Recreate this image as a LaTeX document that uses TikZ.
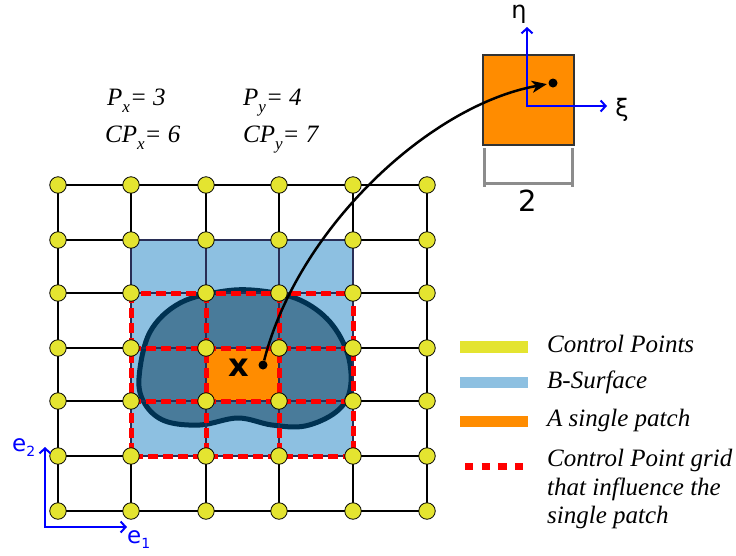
\documentclass[tikz,border=0pt]{standalone}
\usepackage{fontspec}
\setmainfont{Liberation Serif}
\newfontfamily\dvs{DejaVu Sans}
\usetikzlibrary{arrows.meta}
\definecolor{cpyellow}{RGB}{228,228,48}
\definecolor{surfblue}{RGB}{141,192,225}
\definecolor{blobfill}{RGB}{73,123,154}
\definecolor{blobline}{RGB}{0,50,82}
\definecolor{patchorange}{RGB}{255,140,0}
\definecolor{gridred}{RGB}{255,0,0}
\definecolor{bracketgray}{RGB}{140,140,140}
\definecolor{axisblue}{RGB}{0,0,255}
\definecolor{innerline}{RGB}{40,45,85}
\newcommand\mysub[1]{\raisebox{-0.3em}{\fontsize{17}{17}\selectfont #1}}
\tikzset{
  gridline/.style={line width=2pt, black},
  innergrid/.style={line width=1.2pt, innerline},
  reddash/.style={gridred, line width=5pt, dash pattern=on 10pt off 5pt},
  ctrlpt/.style={circle, draw=black, line width=0.8pt, fill=cpyellow, minimum size=16.5pt, inner sep=0pt},
  dotnode/.style={circle, fill=black, minimum size=9pt, inner sep=0pt},
  axisline/.style={axisblue, line width=2pt},
  bracketline/.style={bracketgray, line width=3pt},
  labeltext/.style={font=\fontsize{25}{25}\selectfont\itshape, anchor=base west, inner sep=0pt},
  legendtext/.style={font=\fontsize{25}{29}\selectfont\itshape, anchor=base west, inner sep=0pt},
}
\begin{document}
\begin{tikzpicture}[x=1pt,y=-1pt]
\useasboundingbox (0,0) rectangle (736,555);
% grid coordinates
\foreach \xx [count=\i] in {58,131,206,279,353,427}{
  \foreach \yy [count=\j] in {185,240,293,348,401,456,511}{
    \coordinate (g-\i-\j) at (\xx,\yy);
  }
}
% grid lines
\foreach \i in {1,...,6} \draw[gridline] (g-\i-1) -- (g-\i-7);
\foreach \j in {1,...,7} \draw[gridline] (g-1-\j) -- (g-6-\j);
% B-surface
\fill[surfblue] (g-2-2) rectangle (g-5-6);
% blob
\filldraw[fill=blobfill, draw=blobline, line width=5pt]
  plot[smooth cycle, tension=0.6] coordinates {(139,378) (150,332) (180,303) (225,291) (262,291) (300,300) (330,322) (348,355) (350,390) (336,412) (305,426) (272,425) (238,418) (200,425) (165,421) (145,404)};
% single patch
\fill[patchorange] (g-3-4) rectangle (g-4-5);
% inner grid lines
\draw[innergrid] (g-2-2) rectangle (g-5-6);
\foreach \i in {3,4} \draw[innergrid] (g-\i-2) -- (g-\i-6);
\foreach \j in {3,4,5} \draw[innergrid] (g-2-\j) -- (g-5-\j);
% red dashed control point grid
\draw[reddash] (g-2-3) rectangle (g-5-6);
\draw[reddash] (g-3-3) -- (g-3-6);
\draw[reddash] (g-4-3) -- (g-4-6);
\draw[reddash] (g-2-4) -- (g-5-4);
\draw[reddash] (g-2-5) -- (g-5-5);
% x label and source point
\node[font=\fontsize{32}{32}\selectfont\dvs\bfseries, inner sep=0pt] (xlabel) at (239,368) {x};
\node[dotnode] (src) at (263,365) {};
% control points
\foreach \i in {1,...,6}{
  \foreach \j in {1,...,7}{
    \node[ctrlpt] (cp-\i-\j) at (g-\i-\j) {};
  }
}
% reference patch
\node[draw=black!80, line width=1.2pt, fill=patchorange, minimum width=91pt, minimum height=90pt, inner sep=0pt] (refpatch) at (528.5,100) {};
\coordinate (orig) at (527,106);
\coordinate (etaend) at (527,27);
\coordinate (xiend) at (607,106);
\draw[axisline, {Straight Barb[length=5pt,width=11pt]}-{Straight Barb[length=5pt,width=11pt]}] (etaend) -- (orig) -- (xiend);
\node[font=\fontsize{24}{24}\selectfont\dvs, inner sep=0pt] (etalbl) at (519,14) {η};
\node[font=\fontsize{24}{24}\selectfont\dvs, inner sep=0pt] (xilbl) at (622,110) {ξ};
\node[dotnode] (dst) at (553,83) {};
% bracket
\coordinate (bl1) at (484,148); \coordinate (bl2) at (484,187);
\coordinate (br1) at (572,148); \coordinate (br2) at (572,187);
\coordinate (bm1) at (484,183); \coordinate (bm2) at (572,183);
\draw[bracketline] (bl1) -- (bl2);
\draw[bracketline] (br1) -- (br2);
\draw[bracketline] (bm1) -- (bm2);
\node[font=\fontsize{29}{29}\selectfont\dvs, inner sep=0pt] (twolbl) at (528,201) {2};
% mapping curve
\draw[line width=2.5pt, -{Stealth[length=15pt,width=12pt,inset=4pt]}, shorten >=1.5pt] (src) .. controls (298,228) and (430,105) .. (dst);
% P labels
\node[labeltext] (px) at (107,105) {P\mysub{x}= 3};
\node[labeltext] (py) at (243,105) {P\mysub{y}= 4};
\node[labeltext] (cpx) at (105,142) {CP\mysub{x}= 6};
\node[labeltext] (cpy) at (243,142) {CP\mysub{y}= 7};
% e axes
\coordinate (eorig) at (45,527);
\coordinate (e2end) at (45,447);
\coordinate (e1end) at (127,527);
\draw[axisline, {Straight Barb[length=5pt,width=11pt]}-{Straight Barb[length=5pt,width=11pt]}] (e2end) -- (eorig) -- (e1end);
\node[font=\fontsize{23}{23}\selectfont\dvs, text=axisblue, inner sep=0pt, anchor=base west] (e2lbl) at (12,451) {e\raisebox{-0.25em}{\fontsize{14}{14}\selectfont 2}};
\node[font=\fontsize{23}{23}\selectfont\dvs, text=axisblue, inner sep=0pt, anchor=base west] (e1lbl) at (127,543) {e\raisebox{-0.25em}{\fontsize{14}{14}\selectfont 1}};
% legend
\fill[cpyellow] (460,341) rectangle (528,353);
\fill[surfblue] (460,377) rectangle (528,388);
\fill[patchorange] (460,416) rectangle (528,427);
\coordinate (ld1) at (465,466); \coordinate (ld2) at (524,466);
\draw[gridred, line width=7pt, dash pattern=on 8.3pt off 8.3pt] (ld1) -- (ld2);
\node[legendtext] (leg1) at (547,352) {Control Points};
\node[legendtext] (leg2) at (547,388) {B-Surface};
\node[legendtext] (leg3) at (547,426) {A single patch};
\node[legendtext] (leg4a) at (547,466) {Control Point grid};
\node[legendtext] (leg4b) at (547,495) {that influence the};
\node[legendtext] (leg4c) at (547,523) {single patch};
\end{tikzpicture}
\end{document}
